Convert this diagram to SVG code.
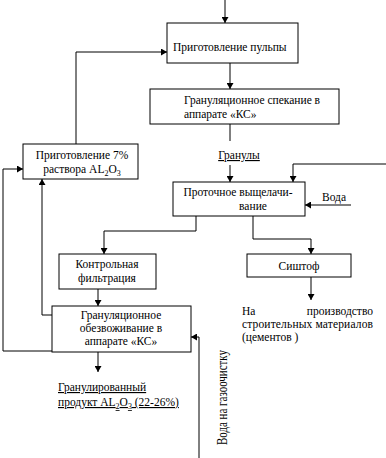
<svg xmlns="http://www.w3.org/2000/svg" width="386" height="458" viewBox="0 0 386 458" font-family="'Liberation Serif', 'Times New Roman', serif" font-size="11.5">
<defs>
<marker id="ah" markerWidth="7" markerHeight="7" refX="6" refY="3.5" orient="auto" markerUnits="userSpaceOnUse">
<path d="M0,0 L6,3.5 L0,7 Z" fill="#000"/>
</marker>
<style>
.box{fill:#fff;stroke:#000;stroke-width:1}
.ln{fill:none;stroke:#000;stroke-width:1}
.ar{fill:none;stroke:#000;stroke-width:1;marker-end:url(#ah)}
text{font-family:'Liberation Serif','Times New Roman',serif;font-size:11.5px;fill:#000}
.c{text-anchor:middle}
.u{text-decoration:underline}
</style>
</defs>
<rect width="386" height="458" fill="#fff"/>
<g id="connectors">
<path class="ar" d="M225,0 V23"/>
<path class="ar" d="M76,145 V52 H167"/>
<path class="ar" d="M230,63 V89"/>
<path class="ln" d="M230,124 V141"/>
<path class="ar" d="M230,165 V182"/>
<path class="ar" d="M386,164 H293 V182"/>
<path class="ar" d="M351,205 H305"/>
<path class="ar" d="M196,216 V231 H104 V254"/>
<path class="ar" d="M253,216 V239 H311 V254"/>
<path class="ar" d="M98,289 V306"/>
<path class="ar" d="M311,277 V300"/>
<path class="ar" d="M3,169 H23"/>
<path class="ln" d="M52,351 H3 V169"/>
<path class="ar" d="M52,315 H42 V179"/>
<path class="ar" d="M199,458 V337 H191"/>
<path class="ar" d="M98,352 V372"/>
</g>
<g id="n1">
<rect class="box" x="167" y="23" width="131" height="40"/>
<text x="173" y="51">Приготовление пульпы</text>
</g>
<g id="n2">
<rect class="box" x="150" y="89" width="189" height="35"/>
<text x="184" y="104">Грануляционное спекание в</text>
<text x="184" y="118">аппарате «КС»</text>
</g>
<g id="n3">
<rect class="box" x="23" y="144" width="115" height="35"/>
<text class="c" x="82" y="159">Приготовление 7%</text>
<text class="c" x="82" y="173">раствора AL<tspan font-size="8" dy="3">2</tspan><tspan dy="-3">O</tspan><tspan font-size="8" dy="3">3</tspan></text>
</g>
<g id="lbl-granuly">
<text class="c u" x="239" y="159">Гранулы</text>
</g>
<g id="n4">
<rect class="box" x="173" y="182" width="132" height="34"/>
<text class="c" x="238" y="196">Проточное выщелачи-</text>
<text class="c" x="253" y="210">вание</text>
</g>
<g id="lbl-voda">
<text x="322" y="201">Вода</text>
</g>
<g id="n5">
<rect class="box" x="59" y="254" width="97" height="35"/>
<text class="c" x="107" y="268">Контрольная</text>
<text class="c" x="107" y="282">фильтрация</text>
</g>
<g id="n6">
<rect class="box" x="247" y="254" width="104" height="23"/>
<text class="c" x="299" y="270">Сиштоф</text>
</g>
<g id="lbl-proizv">
<text x="242" y="315">На</text>
<text x="373" y="315" text-anchor="end">производство</text>
<text x="242" y="328" textLength="131" lengthAdjust="spacing">строительных материалов</text>
<text x="242" y="341">(цементов )</text>
</g>
<g id="n7">
<rect class="box" x="52" y="306" width="139" height="46"/>
<text class="c" x="121" y="319">Грануляционное</text>
<text class="c" x="121" y="332">обезвоживание в</text>
<text class="c" x="121" y="345">аппарате «КС»</text>
</g>
<g id="lbl-product">
<text class="u" x="58" y="391">Гранулированный</text>
<text class="u" x="58" y="406">продукт AL<tspan font-size="8" dy="3">2</tspan><tspan dy="-3">O</tspan><tspan font-size="8" dy="3">3</tspan><tspan dy="-3"> (22-26%)</tspan></text>
</g>
<g id="lbl-gas">
<text transform="translate(227,445) rotate(-90)" x="0" y="0" textLength="95" lengthAdjust="spacingAndGlyphs" style="font-size:14px">Вода на газоочистку</text>
</g>
</svg>
